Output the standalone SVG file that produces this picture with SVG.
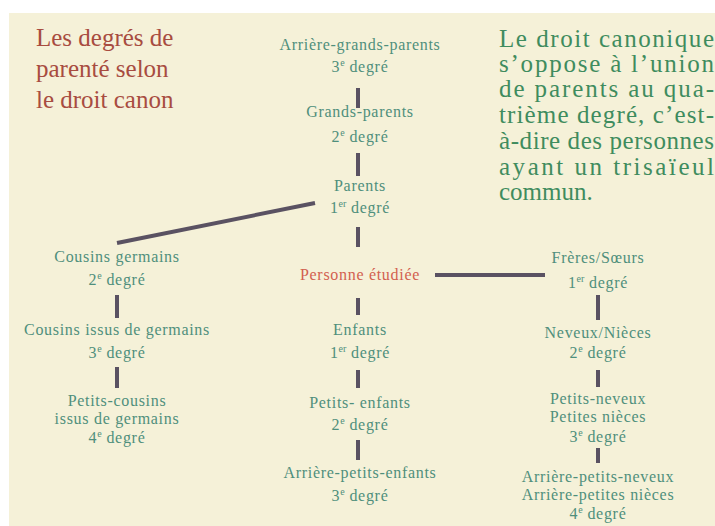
<svg xmlns="http://www.w3.org/2000/svg" width="715" height="526" viewBox="0 0 715 526">
<style>
.n{font-family:"Liberation Serif","DejaVu Serif",serif;font-size:16px;letter-spacing:0.7px;fill:#4f8f7c;text-anchor:middle}
.sup{font-size:10px;letter-spacing:0}
.title{font-family:"Liberation Serif","DejaVu Serif",serif;font-size:25px;fill:#a84c40}
.para{font-family:"Liberation Serif","DejaVu Serif",serif;font-size:25px;fill:#3f8c5e}
.me{fill:#d2604f}
.c{stroke:#5a5262;stroke-width:4;stroke-linecap:butt;fill:none}
</style>
<rect x="0" y="0" width="715" height="526" fill="#ffffff"/>
<rect x="9" y="13" width="706" height="513" fill="#f5f1d8"/>
<g id="title">
<text class="title" x="36" y="46">Les degrés de</text>
<text class="title" x="36" y="77">parenté selon</text>
<text class="title" x="36" y="108">le droit canon</text>
</g>
<g id="paragraph">
<text class="para" x="499" y="47" textLength="215" lengthAdjust="spacing">Le droit canonique</text>
<text class="para" x="499" y="72" textLength="215" lengthAdjust="spacing">s’oppose à l’union</text>
<text class="para" x="499" y="97" textLength="215" lengthAdjust="spacing">de parents au qua-</text>
<text class="para" x="499" y="123" textLength="215" lengthAdjust="spacing">trième degré, c’est-</text>
<text class="para" x="499" y="149" textLength="215" lengthAdjust="spacing">à-dire des personnes</text>
<text class="para" x="499" y="175" textLength="215" lengthAdjust="spacing">ayant un trisaïeul</text>
<text class="para" x="499" y="200">commun.</text>
</g>
<g id="connectors">
<line class="c" x1="358" y1="88" x2="358" y2="108"/>
<line class="c" x1="358" y1="153" x2="358" y2="176"/>
<line class="c" x1="358" y1="227" x2="358" y2="247"/>
<line class="c" x1="358" y1="298" x2="358" y2="315"/>
<line class="c" x1="358" y1="370" x2="358" y2="388"/>
<line class="c" x1="358" y1="440" x2="358" y2="460"/>
<line class="c" x1="117" y1="295" x2="117" y2="318"/>
<line class="c" x1="117" y1="367" x2="117" y2="388"/>
<line class="c" x1="598" y1="295" x2="598" y2="320"/>
<line class="c" x1="598" y1="370" x2="598" y2="387"/>
<line class="c" x1="598" y1="448" x2="598" y2="463"/>
<line class="c" x1="435" y1="275" x2="545" y2="275" stroke-width="5"/>
<line class="c" x1="117" y1="243" x2="315" y2="203"/>
</g>
<g id="arriere-grands-parents">
<text class="n" x="360" y="50">Arrière-grands-parents</text>
<text class="n" x="360" y="72">3<tspan class="sup" dy="-6">e</tspan><tspan dy="6"> degré</tspan></text>
</g>
<g id="grands-parents">
<text class="n" x="360" y="117">Grands-parents</text>
<text class="n" x="360" y="142">2<tspan class="sup" dy="-6">e</tspan><tspan dy="6"> degré</tspan></text>
</g>
<g id="parents">
<text class="n" x="360" y="191">Parents</text>
<text class="n" x="360" y="213">1<tspan class="sup" dy="-6">er</tspan><tspan dy="6"> degré</tspan></text>
</g>
<g id="personne">
<text class="n me" x="360" y="280">Personne étudiée</text>
</g>
<g id="enfants">
<text class="n" x="360" y="335">Enfants</text>
<text class="n" x="360" y="358">1<tspan class="sup" dy="-6">er</tspan><tspan dy="6"> degré</tspan></text>
</g>
<g id="petits-enfants">
<text class="n" x="360" y="408">Petits- enfants</text>
<text class="n" x="360" y="430">2<tspan class="sup" dy="-6">e</tspan><tspan dy="6"> degré</tspan></text>
</g>
<g id="arriere-petits-enfants">
<text class="n" x="360" y="478">Arrière-petits-enfants</text>
<text class="n" x="360" y="501">3<tspan class="sup" dy="-6">e</tspan><tspan dy="6"> degré</tspan></text>
</g>
<g id="cousins-germains">
<text class="n" x="117" y="262">Cousins germains</text>
<text class="n" x="117" y="285">2<tspan class="sup" dy="-6">e</tspan><tspan dy="6"> degré</tspan></text>
</g>
<g id="cousins-issus">
<text class="n" x="117" y="335">Cousins issus de germains</text>
<text class="n" x="117" y="358">3<tspan class="sup" dy="-6">e</tspan><tspan dy="6"> degré</tspan></text>
</g>
<g id="petits-cousins">
<text class="n" x="117" y="406">Petits-cousins</text>
<text class="n" x="117" y="424">issus de germains</text>
<text class="n" x="117" y="443">4<tspan class="sup" dy="-6">e</tspan><tspan dy="6"> degré</tspan></text>
</g>
<g id="freres-soeurs">
<text class="n" x="598" y="263">Frères/Sœurs</text>
<text class="n" x="598" y="288">1<tspan class="sup" dy="-6">er</tspan><tspan dy="6"> degré</tspan></text>
</g>
<g id="neveux-nieces">
<text class="n" x="598" y="338">Neveux/Nièces</text>
<text class="n" x="598" y="358">2<tspan class="sup" dy="-6">e</tspan><tspan dy="6"> degré</tspan></text>
</g>
<g id="petits-neveux">
<text class="n" x="598" y="404">Petits-neveux</text>
<text class="n" x="598" y="422">Petites nièces</text>
<text class="n" x="598" y="442">3<tspan class="sup" dy="-6">e</tspan><tspan dy="6"> degré</tspan></text>
</g>
<g id="arriere-petits-neveux">
<text class="n" x="598" y="482">Arrière-petits-neveux</text>
<text class="n" x="598" y="500">Arrière-petites nièces</text>
<text class="n" x="598" y="519">4<tspan class="sup" dy="-6">e</tspan><tspan dy="6"> degré</tspan></text>
</g>
</svg>
